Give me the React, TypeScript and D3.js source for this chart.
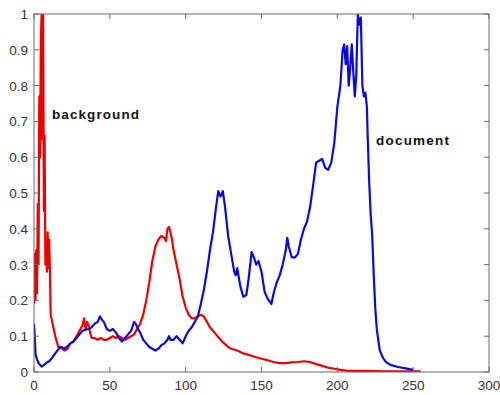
import React from "react";
import * as d3 from "d3";

const redX = [0,0.5,1,1.5,2,2.5,3,3.5,4,4.5,5,5.5,6,6.5,7,7.5,8,8.5,9,9.5,10,10.5,11,12,13,14,15,16,18,20,22,24,26,28,30,32,33,34,35,36,37,38,40,42,44,46,48,50,52,54,56,58,60,62,64,66,68,70,72,74,76,78,80,82,84,86,87,88,89,90,91,92,94,96,98,100,102,104,106,108,110,112,114,116,118,120,122,124,126,128,130,134,138,142,146,150,154,158,162,166,170,174,178,182,186,190,194,198,202,206,210,220,230,240,250,255];
const redY = [0.19,0.33,0.2,0.34,0.22,0.47,0.3,0.77,0.6,0.92,1.0,0.65,1.0,0.45,0.66,0.3,0.35,0.28,0.39,0.29,0.37,0.28,0.16,0.14,0.12,0.1,0.085,0.07,0.07,0.06,0.065,0.08,0.085,0.1,0.115,0.13,0.15,0.12,0.14,0.13,0.11,0.095,0.095,0.09,0.095,0.09,0.09,0.095,0.1,0.095,0.1,0.095,0.09,0.095,0.1,0.105,0.12,0.135,0.16,0.2,0.25,0.31,0.35,0.37,0.38,0.375,0.365,0.4,0.405,0.39,0.37,0.34,0.3,0.26,0.21,0.18,0.16,0.15,0.15,0.155,0.16,0.155,0.14,0.125,0.115,0.105,0.095,0.085,0.078,0.07,0.065,0.06,0.052,0.047,0.042,0.037,0.033,0.028,0.025,0.025,0.027,0.028,0.03,0.028,0.022,0.017,0.012,0.009,0.006,0.004,0.003,0.003,0.002,0.002,0.002,0.002];

const blueX = [0,0.5,1,2,3,4,5,6,8,10,12,14,16,18,20,22,24,26,28,30,32,34,36,38,40,42,43.5,45,46,48,50,52,54,56,58,60,62,64,66,67,68,70,72,74,76,78,80,82,84,86,88,89,90,92,94,96,98,100,102,104,106,108,110,112,114,116,118,120,121.5,123,124.5,126,128,130,132,133,134,136,138,140,141.5,143.5,145,146.5,148,150,152,154,156.5,158,160,162,164,166,167,168,170,172,174,176,178,180,182,184,186,188,190,192,194,196,198,200,202,203.5,204.5,205.5,206.5,207.5,208.5,209.5,210.5,211.5,212.5,213.5,214.5,215.5,216.5,217.5,218.5,219.5,220,221,222,223,224,225,226,227,228,230,232,235,240,245,250];
const blueY = [0.135,0.1,0.05,0.035,0.025,0.02,0.015,0.018,0.025,0.03,0.04,0.052,0.063,0.07,0.065,0.072,0.08,0.085,0.095,0.105,0.115,0.118,0.12,0.125,0.135,0.14,0.155,0.145,0.14,0.12,0.115,0.12,0.11,0.095,0.085,0.095,0.105,0.115,0.14,0.135,0.125,0.11,0.09,0.08,0.07,0.065,0.06,0.065,0.075,0.08,0.09,0.1,0.09,0.09,0.1,0.09,0.08,0.1,0.115,0.125,0.14,0.155,0.19,0.23,0.28,0.34,0.39,0.46,0.505,0.49,0.505,0.46,0.38,0.33,0.28,0.27,0.29,0.24,0.21,0.215,0.26,0.335,0.32,0.3,0.31,0.28,0.225,0.205,0.19,0.22,0.25,0.27,0.3,0.34,0.375,0.35,0.32,0.32,0.33,0.37,0.4,0.42,0.46,0.52,0.585,0.59,0.595,0.57,0.565,0.585,0.64,0.74,0.8,0.9,0.915,0.86,0.91,0.8,0.85,0.915,0.84,0.77,0.83,1.0,0.97,0.99,0.8,0.77,0.78,0.74,0.66,0.53,0.44,0.38,0.27,0.18,0.12,0.09,0.06,0.04,0.028,0.02,0.014,0.01,0.006];

const xTicks = [0, 50, 100, 150, 200, 250, 300];
const yTicks = [0, 0.1, 0.2, 0.3, 0.4, 0.5, 0.6, 0.7, 0.8, 0.9, 1];
const yTickLabels = ["0", "0.1", "0.2", "0.3", "0.4", "0.5", "0.6", "0.7", "0.8", "0.9", "1"];
const labels = ["background", "document"];

export default function App() {
  const left = 34, right = 489, top = 14, bottom = 372;
  const x = d3.scaleLinear().domain([0, 300]).range([left, right]);
  const y = d3.scaleLinear().domain([0, 1]).range([bottom, top]);
  const line = d3.line<[number, number]>().x(d => x(d[0])).y(d => y(d[1]));
  const red = redX.map((v, i) => [v, redY[i]] as [number, number]);
  const blue = blueX.map((v, i) => [v, blueY[i]] as [number, number]);
  const axisColor = "#6a6a6a";
  const textColor = "#333";
  const font = "'Liberation Sans', Arial, sans-serif";
  const tl = 5;
  return (
    <svg width={500} height={395} style={{ position: "absolute", left: 0, top: 0, background: "#fff" }}>
      <rect x={0} y={0} width={500} height={395} fill="#fff" />
      <defs>
        <clipPath id="plotclip">
          <rect x={left} y={top} width={right - left} height={bottom - top} />
        </clipPath>
      </defs>
      <g clipPath="url(#plotclip)">
        <path d={line(red) || ""} fill="none" stroke="#f00000" strokeWidth={2.2} strokeLinejoin="round" />
        <path d={line(blue) || ""} fill="none" stroke="#0a0ae0" strokeWidth={2.2} strokeLinejoin="round" />
      </g>
      <rect x={left} y={top} width={right - left} height={bottom - top} fill="none" stroke={axisColor} strokeWidth={1} />
      {xTicks.map(t => (
        <g key={"x" + t}>
          <line x1={x(t)} x2={x(t)} y1={bottom} y2={bottom - tl} stroke={axisColor} />
          <line x1={x(t)} x2={x(t)} y1={top} y2={top + tl} stroke={axisColor} />
          <text x={x(t)} y={390} textAnchor="middle" fontFamily={font} fontSize={13.5} fill={textColor}>{t}</text>
        </g>
      ))}
      {yTicks.map((t, i) => (
        <g key={"y" + t}>
          <line x1={left} x2={left + tl} y1={y(t)} y2={y(t)} stroke={axisColor} />
          <line x1={right} x2={right - tl} y1={y(t)} y2={y(t)} stroke={axisColor} />
          <text x={28} y={y(t) + 5} textAnchor="end" fontFamily={font} fontSize={13.5} fill={textColor}>{yTickLabels[i]}</text>
        </g>
      ))}
      <text x={52} y={119} fontFamily={font} fontWeight="bold" fontSize={13.5} fill="#111" textLength={87} lengthAdjust="spacing">{labels[0]}</text>
      <text x={376} y={145} fontFamily={font} fontWeight="bold" fontSize={13.5} fill="#111" textLength={73} lengthAdjust="spacing">{labels[1]}</text>
    </svg>
  );
}
